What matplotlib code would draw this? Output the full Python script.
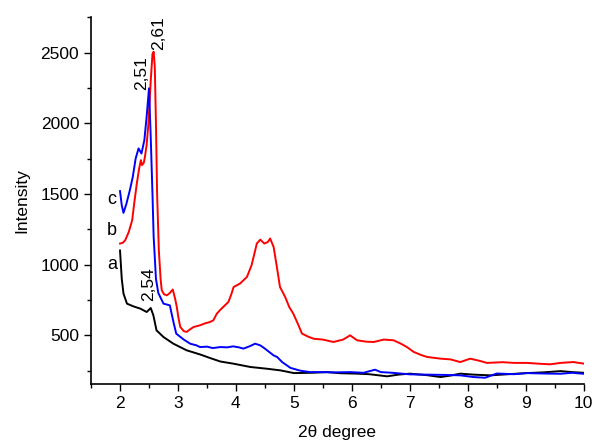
import matplotlib
matplotlib.use("Agg")
import matplotlib.pyplot as plt
from matplotlib.ticker import MultipleLocator

plt.rcParams['font.family'] = ['Liberation Sans', 'DejaVu Sans']

# curve a (black)
xa = [2.0, 2.03, 2.06, 2.12, 2.23, 2.35, 2.46, 2.53, 2.575, 2.63, 2.75, 2.92, 3.15, 3.38, 3.55,
      3.73, 3.95, 4.25, 4.53, 4.77, 5.0, 5.3, 5.57, 5.8, 6.09, 6.3, 6.61, 6.8, 7.0, 7.3, 7.53,
      7.7, 7.87, 8.1, 8.39, 8.7, 9.02, 9.3, 9.6, 9.8, 10.0]
ya = [1100, 900, 795, 724, 705, 689, 665, 693, 642, 535, 488, 441, 394, 365, 340,
      315, 300, 276, 264, 252, 233, 235, 240, 232, 229, 225, 210, 222, 229, 218, 205,
      215, 229, 222, 217, 225, 233, 238, 247, 240, 235]

# curve b (red)
xb = [2.0, 2.05, 2.09, 2.15, 2.21, 2.25, 2.29, 2.33, 2.36, 2.38, 2.41, 2.43, 2.46, 2.49, 2.53,
      2.56, 2.58, 2.60, 2.62, 2.64, 2.67, 2.70, 2.72, 2.76, 2.81, 2.86, 2.91, 2.95, 2.98, 3.01,
      3.04, 3.1, 3.15, 3.2, 3.27, 3.38, 3.47, 3.55, 3.61, 3.67, 3.73, 3.78, 3.87, 3.92, 3.96,
      4.07, 4.19, 4.27, 4.32, 4.36, 4.42, 4.49, 4.55, 4.59, 4.65, 4.70, 4.76, 4.85, 4.92, 4.99,
      5.07, 5.14, 5.25, 5.34, 5.50, 5.68, 5.85, 5.97, 6.09, 6.25, 6.38, 6.55, 6.72, 6.85, 6.95,
      7.07, 7.2, 7.3, 7.53, 7.7, 7.87, 8.04, 8.2, 8.33, 8.6, 8.8, 9.02, 9.2, 9.42, 9.6, 9.82, 10.0]
yb = [1149, 1155, 1173, 1230, 1314, 1450, 1574, 1680, 1739, 1704, 1720, 1763, 1850, 1999, 2300,
      2490, 2506, 2400, 2000, 1500, 1100, 900, 819, 790, 783, 800, 824, 760, 700, 620,
      559, 530, 524, 540, 559, 571, 585, 594, 606, 653, 680, 700, 736, 790, 842,
      866, 913, 996, 1080, 1149, 1177, 1149, 1160, 1185, 1125, 1000, 842, 771, 700, 653,
      580, 512, 490, 476, 470, 453, 470, 500, 465, 455, 453, 470, 465, 440, 417,
      382, 360, 347, 335, 330, 311, 335, 320, 305, 310, 305, 305, 300, 295, 305, 311, 300]

# curve c (blue)
xc = [2.0, 2.03, 2.06, 2.11, 2.17, 2.22, 2.27, 2.32, 2.37, 2.42, 2.46, 2.50, 2.53, 2.56, 2.58,
      2.62, 2.66, 2.75, 2.86, 2.89, 2.93, 2.97, 3.1, 3.21, 3.32, 3.38, 3.5, 3.6, 3.73, 3.85,
      3.95, 4.05, 4.13, 4.25, 4.33, 4.42, 4.50, 4.65, 4.71, 4.8, 4.94, 5.11, 5.28, 5.45, 5.7,
      5.97, 6.2, 6.40, 6.5, 6.7, 7.0, 7.3, 7.6, 7.87, 8.1, 8.3, 8.5, 8.8, 9.02, 9.3, 9.6, 9.8, 10.0]
yc = [1520, 1420, 1366, 1430, 1527, 1620, 1751, 1822, 1786, 1880, 2050, 2247, 1900, 1500, 1200,
      900, 800, 724, 712, 654, 580, 512, 470, 441, 429, 417, 420, 410, 417, 415,
      422, 415, 406, 425, 441, 429, 406, 358, 347, 310, 270, 250, 240, 240, 238,
      240, 235, 257, 240, 235, 224, 222, 220, 217, 205, 200, 230, 225, 233, 230, 228, 235, 228]

curve_labels = ['a', 'b', 'c']
label_pos = [(1.86, 1000), (1.86, 1240), (1.86, 1460)]
peak_labels = ['2,54', '2,51', '2,61']
peak_pos = [(2.50, 740), (2.38, 2235), (2.66, 2515)]

fig = plt.figure(figsize=(5.95, 4.41), dpi=100)
ax = fig.add_axes([0.153, 0.129, 0.828, 0.832])

ax.plot(xa, ya, color='black', lw=1.4)
ax.plot(xb, yb, color='red', lw=1.4)
ax.plot(xc, yc, color='blue', lw=1.4)

for t, (x, y) in zip(curve_labels, label_pos):
    ax.text(x, y, t, fontsize=13, ha='center', va='center')
for t, (x, y) in zip(peak_labels, peak_pos):
    ax.text(x, y, t, fontsize=12.5, rotation=90, ha='center', va='bottom')

ax.set_xlim(1.5, 10)
ax.set_ylim(155, 2750)
ax.xaxis.set_major_locator(MultipleLocator(1))
ax.xaxis.set_minor_locator(MultipleLocator(0.5))
ax.yaxis.set_major_locator(MultipleLocator(500))
ax.yaxis.set_minor_locator(MultipleLocator(250))
ax.set_xticks([2, 3, 4, 5, 6, 7, 8, 9, 10])
ax.set_yticks([500, 1000, 1500, 2000, 2500])
ax.tick_params(which='major', direction='out', length=5, width=1, labelsize=12.5)
ax.tick_params(which='minor', direction='out', length=3, width=1)
for s in ['top', 'right']:
    ax.spines[s].set_visible(False)
for s in ['left', 'bottom']:
    ax.spines[s].set_linewidth(1.2)

ax.set_xlabel('2θ degree', fontsize=12.5, labelpad=10)
ax.set_ylabel('Intensity', fontsize=12.5, labelpad=8)

fig.savefig('out.png', dpi=100)
